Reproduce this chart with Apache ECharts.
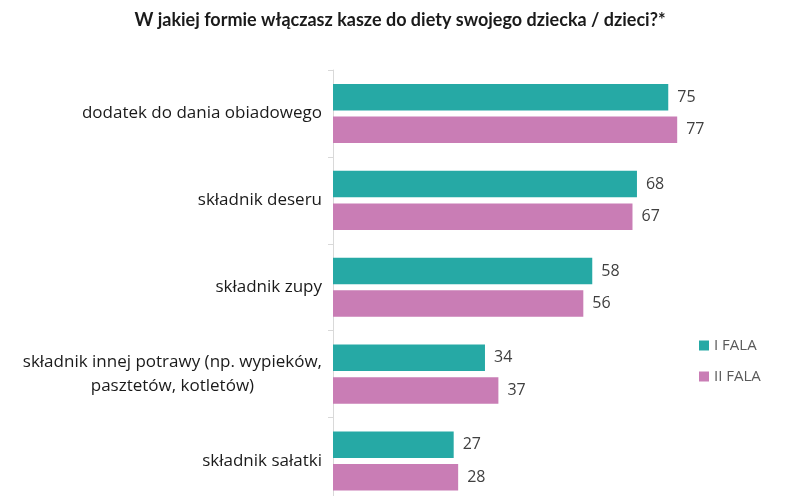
<!DOCTYPE html>
<html>
<head>
<meta charset="utf-8">
<script src="https://cdn.jsdelivr.net/npm/echarts@6/dist/echarts.min.js"></script>
<style>html,body{margin:0;padding:0;background:#fff;}#c{width:800px;height:496px;}</style>
</head>
<body>
<div id="c"></div>
<script>
var titleText = 'W jakiej formie włączasz kasze do diety swojego dziecka / dzieci?*';
var categories = [
  'dodatek do dania obiadowego',
  'składnik deseru',
  'składnik zupy',
  'składnik innej potrawy (np. wypieków,\npasztetów, kotletów)',
  'składnik sałatki'
];
var seriesNames = ['I FALA', 'II FALA'];
var fala1 = [75, 68, 58, 34, 27];
var fala2 = [77, 67, 56, 37, 28];
var colors = ['#26A9A5', '#C97DB5'];

var chart = echarts.init(document.getElementById('c'), null, {renderer: 'canvas'});
var labelFont = '"Open Sans", Lato, sans-serif';
function barSeries(name, data, color) {
  return {
    name: name,
    type: 'bar',
    data: data,
    barWidth: 26.5,
    barGap: '23%',
    barCategoryGap: '31%',
    itemStyle: {color: color},
    label: {
      show: true,
      position: 'right',
      distance: 9,
      color: '#404040',
      fontSize: 16,
      fontFamily: labelFont
    }
  };
}
chart.setOption({
  animation: false,
  color: colors,
  title: {
    text: titleText,
    left: 'center',
    top: 6,
    textStyle: {fontSize: 18, fontWeight: 'bold', color: '#1a1a1a', fontFamily: 'Lato, sans-serif'}
  },
  legend: {
    orient: 'vertical',
    left: 694,
    top: 333,
    itemWidth: 10,
    itemHeight: 10,
    itemGap: 16,
    itemStyle: {borderWidth: 0},
    icon: 'rect',
    textStyle: {fontSize: 15, color: '#595959', fontFamily: labelFont},
    data: seriesNames
  },
  grid: {left: 333, right: 20, top: 70, height: 434.5, containLabel: false, outerBoundsMode: 'none'},
  xAxis: {
    type: 'value',
    min: 0,
    max: 100,
    show: false
  },
  yAxis: {
    type: 'category',
    inverse: true,
    data: categories,
    axisLine: {show: true, lineStyle: {color: '#d9d9d9', width: 1}},
    axisTick: {show: true, length: 5, lineStyle: {color: '#d9d9d9'}},
    axisLabel: {
      margin: 11,
      color: '#1a1a1a',
      fontSize: 17,
      fontFamily: labelFont,
      lineHeight: 24,
      formatter: function (v) {
        return v.split('\n').map(function (l) { return '{c|' + l + '}'; }).join('\n');
      },
      rich: {c: {align: 'center', fontSize: 17, fontFamily: labelFont, color: '#1a1a1a', lineHeight: 24}}
    },
    splitLine: {show: false}
  },
  series: [
    barSeries(seriesNames[0], fala1, colors[0]),
    barSeries(seriesNames[1], fala2, colors[1])
  ]
});
</script>
</body>
</html>
